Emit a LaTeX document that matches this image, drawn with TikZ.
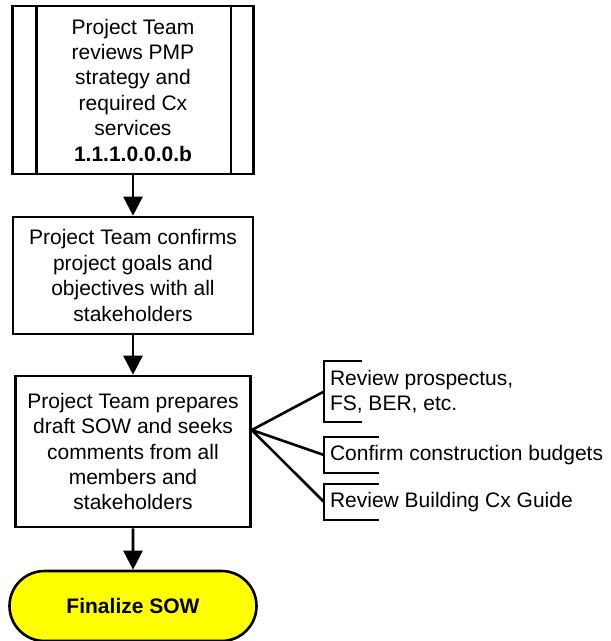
\documentclass[tikz,border=0pt]{standalone}
\usepackage{fontspec}
\setmainfont{Liberation Sans}
\usepackage{tikz}
\usetikzlibrary{arrows.meta,shapes.misc}
\definecolor{TermYellow}{HTML}{FFFF00}
\definecolor{LineBlack}{HTML}{000000}

\begin{document}
\begin{tikzpicture}[x=1pt,y=-1pt,line width=2.6pt,
  proc/.style={draw=LineBlack, align=center, inner sep=0pt,
    font=\fontsize{21}{25.4}\selectfont},
  terminal/.style={proc, rounded rectangle, fill=TermYellow,
    font=\fontsize{21}{25.4}\selectfont\bfseries},
  annot/.style={anchor=west, align=left, inner xsep=6pt, inner ysep=0pt,
    outer sep=0pt, font=\fontsize{21}{24.5}\selectfont},
  flow/.style={-{Triangle[width=19pt,length=19pt]}}]
  \useasboundingbox (0,0) rectangle (611,641);
  % main column
  \node[proc, minimum width=241pt, minimum height=168pt] (review) at (133,90)
    {Project Team\\reviews PMP\\strategy and\\required Cx\\services\\\textbf{1.1.1.0.0.0.b}};
  \draw ([xshift=25pt]review.north west) -- ([xshift=25pt]review.south west);
  \draw ([xshift=-24pt]review.north east) -- ([xshift=-24pt]review.south east);
  \node[proc, minimum width=240pt, minimum height=117pt] (confirm) at (133,275.5)
    {Project Team confirms\\project goals and\\objectives with all\\stakeholders};
  \node[proc, minimum width=235pt, minimum height=151pt] (prepare) at (133,451.5)
    {Project Team prepares\\draft SOW and seeks\\comments from all\\members and\\stakeholders};
  \node[terminal, minimum width=247pt, minimum height=70pt] (final) at (133,606)
    {Finalize SOW};
  \draw[flow] (review) -- (confirm);
  \draw[flow] (confirm) -- (prepare);
  \draw[flow] (prepare) -- (final);
  % annotations
  \node[annot, minimum height=61pt] (prosp) at (324,391.5) {Review prospectus,\\FS, BER, etc.};
  \node[annot, minimum height=36pt] (budget) at (324,455) {Confirm construction budgets};
  \node[annot, minimum height=36pt] (guide) at (324,502) {Review Building Cx Guide};
  \draw ([xshift=38pt]prosp.north west) -- (prosp.north west) -- (prosp.south west) -- ([xshift=38pt]prosp.south west);
  \draw ([xshift=55pt]budget.north west) -- (budget.north west) -- (budget.south west) -- ([xshift=55pt]budget.south west);
  \draw ([xshift=55pt]guide.north west) -- (guide.north west) -- (guide.south west) -- ([xshift=55pt]guide.south west);
  \coordinate (fan) at ([yshift=21.5pt]prepare.east);
  \draw (fan) -- (prosp.west);
  \draw (fan) -- (budget.west);
  \draw (fan) -- (guide.west);
\end{tikzpicture}
\end{document}
